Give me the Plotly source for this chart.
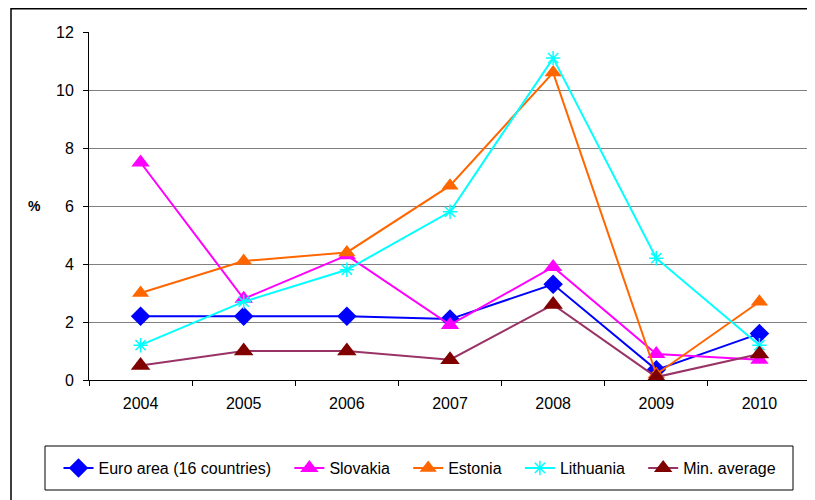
import plotly.graph_objects as go

years = ["2004", "2005", "2006", "2007", "2008", "2009", "2010"]
euro_area = [2.2, 2.2, 2.2, 2.1, 3.3, 0.35, 1.6]
slovakia = [7.5, 2.8, 4.3, 1.9, 3.9, 0.9, 0.7]
estonia = [3.0, 4.1, 4.4, 6.7, 10.6, 0.2, 2.7]
lithuania = [1.2, 2.7, 3.8, 5.8, 11.1, 4.2, 1.2]
min_average = [0.5, 1.0, 1.0, 0.7, 2.6, 0.1, 0.9]

pad = "\u00a0\u00a0\u00a0"
series = [
    ("Euro area (16 countries)" + pad, euro_area, "#0000FF", "#0000FF", "diamond", 15),
    ("Slovakia" + pad, slovakia, "#FF00FF", "#FF00FF", "triangle-up", 16),
    ("Estonia" + pad, estonia, "#FF6600", "#FF6600", "triangle-up", 15),
    ("Lithuania" + pad, lithuania, "#00FFFF", "#00FFFF", "asterisk-open", 12),
    ("Min. average", min_average, "#993366", "#800000", "triangle-up", 17),
]

fig = go.Figure()
for name, vals, lc, mc, sym, sz in series:
    marker = dict(symbol=sym, size=sz, color=mc)
    if sym == "asterisk-open":
        marker["line"] = dict(color=mc, width=1.5)
    else:
        marker["line"] = dict(width=0)
    fig.add_trace(go.Scatter(
        x=years, y=vals, name=name, mode="lines+markers",
        line=dict(color=lc, width=2), marker=marker,
    ))

font = "Liberation Sans, Arial, sans-serif"
# page body has an 8px margin: screen = figure + 8
fig.update_layout(
    width=815, height=500,
    margin=dict(l=81, r=12, t=24, b=128),
    paper_bgcolor="white", plot_bgcolor="white",
    font=dict(family=font, size=16, color="black"),
    showlegend=True,
    legend=dict(orientation="h", x=(420-89)/722, xanchor="center", y=-0.253, yanchor="middle",
                font=dict(family=font, size=16, color="black"),
                bgcolor="rgba(0,0,0,0)", borderwidth=0, itemwidth=30),
    xaxis=dict(type="category", range=[-0.5, 6.5], showgrid=False,
               showline=True, linecolor="black", linewidth=1,
               ticks="outside", tickson="boundaries", ticklen=5, tickcolor="black",
               ticklabelstandoff=9, zeroline=False,
               tickfont=dict(family=font, size=16)),
    yaxis=dict(range=[0, 12], dtick=2, showgrid=True, gridcolor="#808080", gridwidth=1.3,
               showline=True, linecolor="black", linewidth=1,
               ticks="outside", ticklen=5, tickcolor="black", zeroline=False,
               ticklabelstandoff=6, tickfont=dict(family=font, size=16)),
    shapes=[
        dict(type="rect", xref="paper", yref="paper", x0=(11-89)/722, x1=(830-89)/722,
             y0=(380-520)/348, y1=(380-8.7)/348, line=dict(color="black", width=1.5),
             fillcolor="rgba(0,0,0,0)", layer="below"),
        dict(type="line", xref="paper", yref="paper", x0=1, x1=1, y0=0, y1=1,
             line=dict(color="#808080", width=1), layer="below"),
        dict(type="rect", xref="paper", yref="paper", x0=(45-89)/722, x1=(793-89)/722,
             y0=(380-490)/348, y1=(380-446)/348, line=dict(color="black", width=1),
             fillcolor="rgba(0,0,0,0)", layer="below"),
    ],
    annotations=[
        dict(text="<b>%</b>", x=(34-89)/722, xref="paper", y=6, yref="y",
             showarrow=False, font=dict(family=font, size=14, color="black"),
             xanchor="center", yanchor="middle"),
    ],
)

fig.write_html("out.html")
